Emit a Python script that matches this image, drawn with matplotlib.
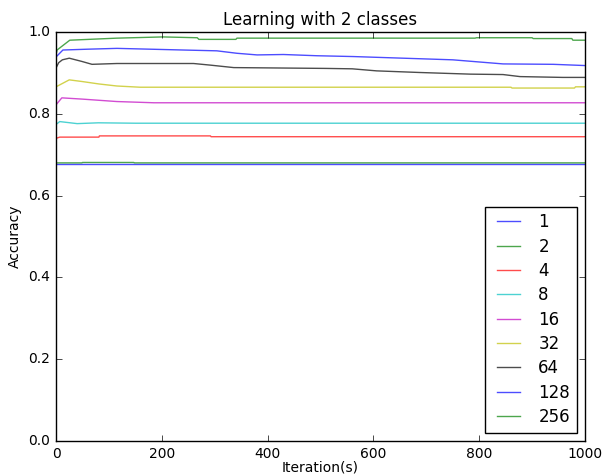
import matplotlib
matplotlib.use("Agg")
import matplotlib.pyplot as plt

plt.style.use("classic")

LABELS = ["1", "2", "4", "8", "16", "32", "64", "128", "256"]
COLORS = ["b", "g", "r", "c", "m", "y", "k", "b", "g"]

# accuracy at a few iterations
it_1 = [0, 1000]
acc_1 = [0.677, 0.677]

it_2 = [0, 49, 50, 147, 148, 1000]
acc_2 = [0.680, 0.680, 0.681, 0.681, 0.680, 0.680]

it_4 = [0, 7, 81, 82, 292, 293, 1000]
acc_4 = [0.740, 0.743, 0.743, 0.746, 0.746, 0.744, 0.744]

it_8 = [0, 7, 40, 80, 150, 1000]
acc_8 = [0.774, 0.781, 0.776, 0.778, 0.777, 0.777]

it_16 = [0, 11, 49, 115, 185, 1000]
acc_16 = [0.822, 0.839, 0.836, 0.830, 0.827, 0.827]

it_32 = [0, 25, 49, 81, 115, 159, 860, 862, 980, 982, 1000]
acc_32 = [0.866, 0.883, 0.879, 0.873, 0.868, 0.865, 0.865, 0.863, 0.863, 0.866, 0.866]

it_64 = [0, 5, 12, 25, 49, 68, 115, 260, 292, 336, 510, 560, 606, 688, 783, 845, 877, 958, 1000]
acc_64 = [0.912, 0.925, 0.932, 0.936, 0.928, 0.921, 0.923, 0.923, 0.919, 0.913, 0.911, 0.910,
          0.905, 0.901, 0.897, 0.896, 0.891, 0.889, 0.889]

it_128 = [0, 13, 60, 115, 178, 240, 304, 342, 380, 430, 493, 562, 656, 750, 845, 940, 1000]
acc_128 = [0.939, 0.956, 0.958, 0.960, 0.958, 0.956, 0.954, 0.948, 0.944, 0.945, 0.942, 0.940,
           0.936, 0.932, 0.922, 0.921, 0.918]

it_256 = [0, 2, 26, 115, 202, 267, 270, 340, 342, 792, 795, 900, 902, 975, 977, 1000]
acc_256 = [0.945, 0.956, 0.980, 0.985, 0.988, 0.986, 0.982, 0.982, 0.985, 0.985, 0.986, 0.986,
           0.984, 0.984, 0.980, 0.980]

series = [(it_1, acc_1), (it_2, acc_2), (it_4, acc_4), (it_8, acc_8), (it_16, acc_16),
          (it_32, acc_32), (it_64, acc_64), (it_128, acc_128), (it_256, acc_256)]

fig = plt.figure(figsize=(6.05, 4.75), dpi=100, facecolor="white")
ax = fig.add_axes([0.0926, 0.0716, 0.8744, 0.861])

for (x, y), lab, col in zip(series, LABELS, COLORS):
    ax.plot(x, y, color=col, alpha=0.7, linewidth=1.0, label=lab)

ax.set_xlim(0, 1000)
ax.set_ylim(0.0, 1.0)
ax.set_xticks([0, 200, 400, 600, 800, 1000])
ax.set_yticks([0.0, 0.2, 0.4, 0.6, 0.8, 1.0])
ax.tick_params(labelsize=10)
ax.set_xlabel("Iteration(s)", fontsize=10, labelpad=0)
ax.set_ylabel("Accuracy", fontsize=10)
ax.set_title("Learning with 2 classes", fontsize=12)
ax.legend(loc="lower right", fontsize=12, labelspacing=0.38, borderpad=0.4)

fig.savefig("out.png", dpi=100, facecolor="white")
